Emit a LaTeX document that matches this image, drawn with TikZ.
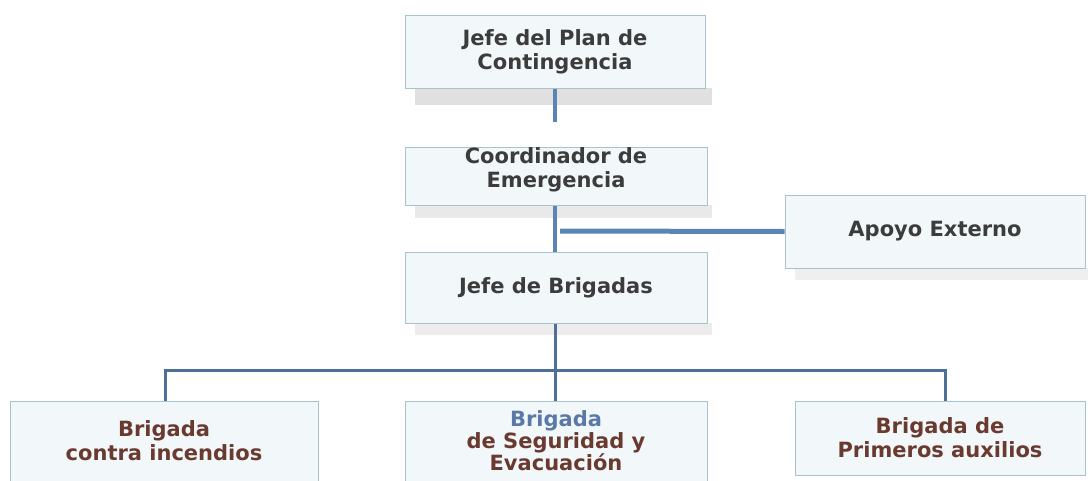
\documentclass[tikz,border=0pt]{standalone}
\usepackage{fontspec}
\setmainfont{DejaVu Sans}
\definecolor{boxfill}{HTML}{F2F8F9}
\definecolor{boxline}{HTML}{A8C3CB}
\definecolor{shadowgray}{HTML}{E0E0E0}
\definecolor{conn}{HTML}{5A84B6}
\definecolor{bus}{HTML}{4D6F98}
\definecolor{txtgray}{HTML}{3C3C3C}
\definecolor{txtbrown}{HTML}{6A3A30}
\definecolor{txtblue}{HTML}{5A78A8}
\begin{document}
\begin{tikzpicture}[x=1pt,y=-1pt,
  orgbox/.style={draw=boxline, line width=1pt, fill=boxfill, minimum width=300pt, inner sep=0pt, align=center,
     font=\fontsize{21}{24}\selectfont\bfseries, text=txtgray},
  brbox/.style={orgbox, text=txtbrown},
  shadowband/.style={fill=shadowgray, draw=none},
  link/.style={draw=conn, line width=4pt},
  buslink/.style={draw=bus, line width=3pt}]
\useasboundingbox (0,0) rectangle (1092,480);
% shadows
\path[shadowband] (415,88) rectangle (712,105);
\path[shadowband, fill opacity=0.7] (415,205) rectangle (712,218);
\path[shadowband, fill opacity=0.5] (795,268) rectangle (1088,280);
\path[shadowband, fill opacity=0.6] (415,323) rectangle (712,335);
% boxes
\node[orgbox, minimum height=73pt] (jefe) at (555,51.5) {Jefe del Plan de\\Contingencia};
\node[orgbox, minimum height=58pt, minimum width=302pt] (coord) at (556,176) {};
\node[font=\fontsize{21}{24}\selectfont\bfseries, text=txtgray, align=center] (coordtxt) at (556,170) {Coordinador de\\Emergencia};
\node[orgbox, minimum height=73pt] (apoyo) at (935,231.5) {Apoyo Externo};
\node[orgbox, minimum height=71pt, minimum width=302pt] (brig) at (556,287.5) {Jefe de Brigadas};
\node[brbox, minimum height=80pt, minimum width=308pt] (inc) at (164,441) {Brigada\\contra incendios};
\node[brbox, minimum height=80pt, minimum width=302pt, font=\fontsize{21}{20}\selectfont\bfseries] (seg) at (556,441) {\textcolor{txtblue}{Brigada}\\de Seguridad y\\Evacuación};
\node[brbox, minimum height=74pt, minimum width=290pt] (aux) at (940,438) {Brigada de\\Primeros auxilios};
% connectors
\coordinate (c1) at (555,122);
\draw[link] (jefe.south -| c1) -- (c1);
\draw[link] (coord.south -| c1) -- (brig.north -| c1);
\coordinate (a0) at (560,231);
\draw[draw=conn, line width=5pt] (a0) -- (apoyo.west);
\coordinate (bus) at (555,370);
\draw[buslink] (brig.south -| bus) -- (seg.north -| bus);
\draw[buslink] (inc.north) ++(1,0) coordinate (il) (il) |- (bus);
\draw[buslink] (aux.north) ++(5,0) coordinate (ar) (ar) |- (bus);
\end{tikzpicture}
\end{document}
